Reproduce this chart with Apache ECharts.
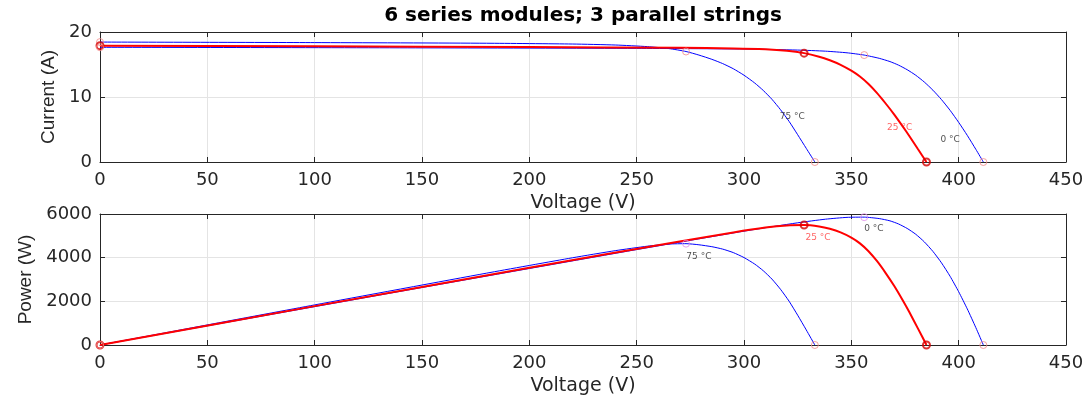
<!DOCTYPE html>
<html>
<head>
<meta charset="utf-8">
<script src="https://cdn.jsdelivr.net/npm/echarts@6/dist/echarts.min.js"></script>
<style>
  html, body { margin: 0; padding: 0; background: #ffffff; }
  #chart { width: 1087px; height: 398px; }
</style>
</head>
<body>
<div id="chart"></div>
<script>
// PV array: 6 series modules x 3 parallel strings, I-V and P-V at three cell temperatures
const temperatures = ['75 °C', '25 °C', '0 °C'];

// 75 °C curve
const volt75 = [0, 100, 180, 220, 240, 255, 265, 273, 279, 285, 290, 295, 300, 305, 309, 313, 317, 321, 325, 329, 333];
const curr75 = [18.45, 18.37, 18.27, 18.15, 18.0, 17.75, 17.45, 17.0, 16.45, 15.8, 15.15, 14.35, 13.35, 12.15, 11.0, 9.65, 8.05, 6.25, 4.2, 2.1, 0];
const pow75  = [0, 1837, 3289, 3993, 4320, 4526, 4624, 4641, 4590, 4503, 4394, 4233, 4005, 3706, 3399, 3020, 2552, 2006, 1365, 691, 0];

// 25 °C curve (reference conditions)
const volt25 = [0, 100, 200, 270, 295, 310, 320, 328, 335, 340, 345, 350, 354, 358, 362, 366, 370, 374, 377, 381, 385];
const curr25 = [17.9, 17.8, 17.68, 17.56, 17.48, 17.35, 17.12, 16.75, 16.2, 15.65, 14.95, 14.05, 13.15, 12.0, 10.6, 9.0, 7.3, 5.45, 4.0, 2.0, 0];
const pow25  = [0, 1780, 3536, 4741, 5157, 5379, 5478, 5494, 5427, 5321, 5158, 4918, 4655, 4296, 3837, 3294, 2701, 2038, 1508, 762, 0];

// 0 °C curve
const volt0 = [0, 150, 250, 300, 325, 338, 348, 356, 363, 368, 372, 376, 380, 384, 388, 392, 396, 400, 404, 408, 411.5];
const curr0 = [17.65, 17.56, 17.48, 17.38, 17.22, 17.05, 16.8, 16.45, 15.95, 15.45, 14.9, 14.2, 13.35, 12.3, 11.05, 9.6, 7.95, 6.1, 4.1, 1.95, 0];
const pow0  = [0, 2634, 4370, 5214, 5597, 5763, 5846, 5856, 5790, 5686, 5543, 5339, 5073, 4723, 4287, 3763, 3148, 2440, 1656, 796, 0];

// Axis ticks
const voltageTicks = [0, 50, 100, 150, 200, 250, 300, 350, 400, 450];
const currentTicks = [0, 10, 20];
const powerTicks = [0, 2000, 4000, 6000];

const curves = [
  { name: temperatures[0], v: volt75, i: curr75, p: pow75, color: '#0000ff', width: 1, marker: '#f48a8a', mppBottom: '#e08ae8', text: '#262626', mark: false },
  { name: temperatures[1], v: volt25, i: curr25, p: pow25, color: '#ff0000', width: 2, marker: '#d40000', mppBottom: '#d40000', text: '#ff3b3b', mark: true },
  { name: temperatures[2], v: volt0,  i: curr0,  p: pow0,  color: '#0000ff', width: 1, marker: '#f48a8a', mppBottom: '#e08ae8', text: '#262626', mark: false }
];

// Where each temperature tag sits on the two panels, in axis units
const tagAnchorsIV = [[322.5, 6.9], [372.5, 5.3], [396, 3.4]];
const tagAnchorsPV = [[279, 4030], [334.5, 4900], [360.5, 5310]];

const frame = '#262626';
const gridColor = '#e4e4e4';
const tickFont = 'DejaVu Sans';

function pairs(xs, ys) { return xs.map((x, k) => [x, ys[k]]); }
function step(ticks) { return ticks[1] - ticks[0]; }

function bottomX(g) {
  return {
    type: 'value', gridIndex: g, position: 'bottom',
    min: voltageTicks[0], max: voltageTicks[voltageTicks.length - 1], interval: step(voltageTicks),
    name: 'Voltage (V)', nameLocation: 'middle', nameGap: 32,
    nameTextStyle: { fontFamily: tickFont, fontSize: 19, color: frame },
    axisLine: { show: true, onZero: false, lineStyle: { color: frame, width: 1 } },
    axisTick: { show: true, inside: true, length: 5, lineStyle: { color: frame } },
    axisLabel: { show: true, fontFamily: tickFont, fontSize: 18, color: frame, margin: 9, showMinLabel: true, showMaxLabel: true },
    splitLine: { show: true, lineStyle: { color: gridColor, width: 1 } }
  };
}
function topX(g) {
  return {
    type: 'value', gridIndex: g, position: 'top',
    min: voltageTicks[0], max: voltageTicks[voltageTicks.length - 1], interval: step(voltageTicks),
    axisLine: { show: true, onZero: false, lineStyle: { color: frame, width: 1 } },
    axisTick: { show: true, inside: true, length: 5, lineStyle: { color: frame } },
    axisLabel: { show: false }, splitLine: { show: false }
  };
}
function leftY(g, ticks, name, gap) {
  return {
    type: 'value', gridIndex: g, position: 'left',
    min: ticks[0], max: ticks[ticks.length - 1], interval: step(ticks),
    name: name, nameLocation: 'middle', nameGap: gap, nameRotate: 90,
    nameTextStyle: { fontFamily: 'Liberation Sans', fontSize: 19, color: frame },
    axisLine: { show: true, onZero: false, lineStyle: { color: frame, width: 1 } },
    axisTick: { show: true, inside: true, length: 5, lineStyle: { color: frame } },
    axisLabel: { show: true, fontFamily: tickFont, fontSize: 18, color: frame, margin: 8,
                 formatter: (val) => String(val) },
    splitLine: { show: true, lineStyle: { color: gridColor, width: 1 } }
  };
}
function rightY(g, ticks) {
  return {
    type: 'value', gridIndex: g, position: 'right',
    min: ticks[0], max: ticks[ticks.length - 1], interval: step(ticks),
    axisLine: { show: true, onZero: false, lineStyle: { color: frame, width: 1 } },
    axisTick: { show: true, inside: true, length: 5, lineStyle: { color: frame } },
    axisLabel: { show: false }, splitLine: { show: false }
  };
}

const series = [];
curves.forEach((c, k) => {
  const iv = pairs(c.v, c.i);
  const pv = pairs(c.v, c.p);
  const mpp = c.p.indexOf(Math.max(...c.p));
  const last = c.v.length - 1;
  const lineBase = { type: 'line', showSymbol: false, smooth: 0.2, silent: true,
                     lineStyle: { color: c.color, width: c.width }, z: c.mark ? 4 : 3 };
  series.push(Object.assign({}, lineBase, { name: c.name + ' I-V', xAxisIndex: 0, yAxisIndex: 0, data: iv }));
  series.push(Object.assign({}, lineBase, { name: c.name + ' P-V', xAxisIndex: 2, yAxisIndex: 2, data: pv }));

  const ring = (col) => ({ color: 'transparent', borderColor: col, borderWidth: c.mark ? 2 : 1 });
  const size = 7;
  series.push({
    type: 'scatter', xAxisIndex: 0, yAxisIndex: 0, symbol: 'circle', symbolSize: size, z: 6, silent: true,
    itemStyle: ring(c.marker),
    data: [iv[0], iv[mpp], iv[last]]
  });
  series.push({
    type: 'scatter', xAxisIndex: 2, yAxisIndex: 2, symbol: 'circle', symbolSize: size, z: 6, silent: true,
    itemStyle: ring(c.marker),
    data: [pv[0], pv[last]]
  });
  series.push({
    type: 'scatter', xAxisIndex: 2, yAxisIndex: 2, symbol: 'circle', symbolSize: size, z: 6, silent: true,
    itemStyle: ring(c.mppBottom),
    data: [pv[mpp]]
  });

  const tag = { show: true, position: 'inside', formatter: c.name, fontFamily: 'DejaVu Sans', fontSize: 9, color: c.text };
  series.push({
    type: 'scatter', xAxisIndex: 0, yAxisIndex: 0, symbolSize: 0, z: 7, silent: true,
    label: tag, data: [tagAnchorsIV[k]]
  });
  series.push({
    type: 'scatter', xAxisIndex: 2, yAxisIndex: 2, symbolSize: 0, z: 7, silent: true,
    label: tag, data: [tagAnchorsPV[k]]
  });
});

const chart = echarts.init(document.getElementById('chart'), null, { renderer: 'canvas' });
chart.setOption({
  animation: false,
  backgroundColor: '#ffffff',
  graphic: [{
    type: 'text', x: 583, y: 6, silent: true,
    style: { text: '6 series modules; 3 parallel strings', textAlign: 'center',
             font: 'bold 20px "DejaVu Sans"', fill: '#000000' }
  }],
  grid: [
    { left: 100, right: 21, top: 32, height: 130 },
    { left: 100, right: 21, top: 214, height: 131 }
  ],
  xAxis: [bottomX(0), topX(0), bottomX(1), topX(1)],
  yAxis: [
    leftY(0, currentTicks, 'Current (A)', 38),
    rightY(0, currentTicks),
    leftY(1, powerTicks, 'Power (W)', 55),
    rightY(1, powerTicks)
  ],
  series: series
});
</script>
</body>
</html>
